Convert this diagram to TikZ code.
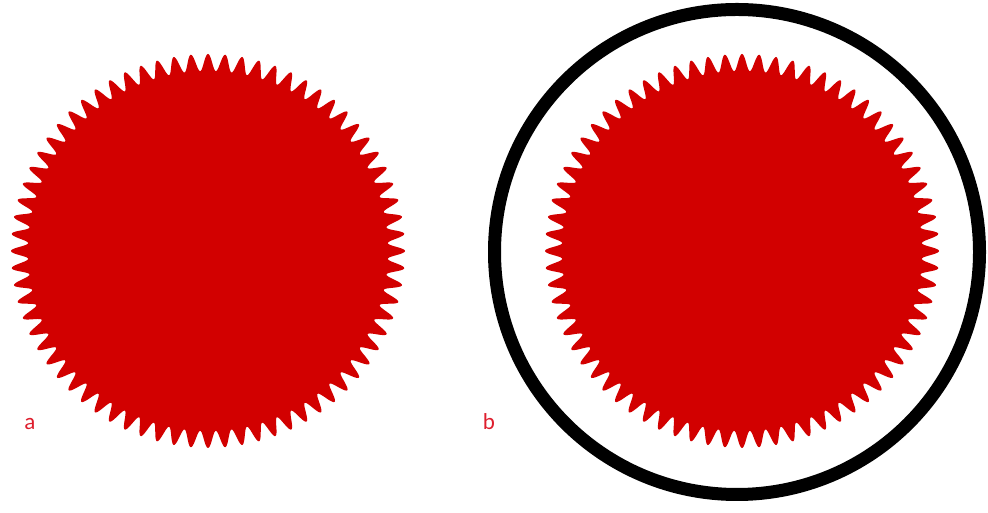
\documentclass[tikz,border=0pt]{standalone}
\usepackage{fontspec}
\setmainfont{Carlito}
\definecolor{gearred}{RGB}{210,0,0}
\definecolor{labelred}{RGB}{222,30,45}
\tikzset{
  gear/.style={fill=gearred, draw=none},
  ring/.style={draw=black, line width=13pt},
  lbl/.style={text=labelred, font=\fontsize{23}{26}\selectfont, anchor=base, inner sep=0pt}
}
\begin{document}
\begin{tikzpicture}[x=1pt,y=1pt]
\useasboundingbox (0,0) rectangle (988,513);
% left gear
\begin{scope}[shift={(208,262)}]
\fill[gear] plot[domain=0:360, samples=1441] ({\x}:{188.5+8.5*cos(72*mod(\x,5))}) -- cycle;
\end{scope}
% right gear
\begin{scope}[shift={(742,262)}]
\fill[gear] plot[domain=0:360, samples=1441] ({\x}:{188.5+8.5*cos(72*mod(\x,5))}) -- cycle;
\end{scope}
% ring
\node[ring, circle, minimum size=485pt, inner sep=0pt] (rg) at (737,261) {};
% labels
\node[lbl] (la) at (30,83) {a};
\node[lbl] (lb) at (489,83) {b};
\end{tikzpicture}
\end{document}
